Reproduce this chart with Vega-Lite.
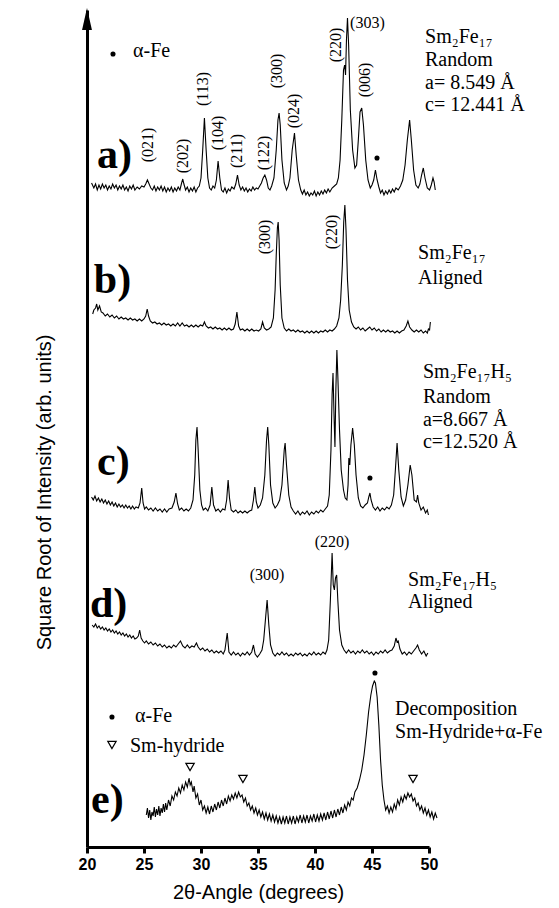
{
"$schema": "https://vega.github.io/schema/vega-lite/v6.json",
"width": 342, "height": 837,
"autosize": {"type": "none"},
"padding": {"left": 87, "top": 10, "right": 130, "bottom": 61},
"background": "white",
"config": {"view": {"stroke": null}, "axis": {"grid": false}},
"datasets": {
"tr": [
{"s":"a","x":20.4,"y":664},{"s":"a","x":20.6,"y":659},{"s":"a","x":20.75,"y":663},{"s":"a","x":20.9,"y":657},{"s":"a","x":21.05,"y":662},{"s":"a","x":21.2,"y":658},{"s":"a","x":21.35,"y":663},{"s":"a","x":21.5,"y":659},{"s":"a","x":21.65,"y":662},{"s":"a","x":21.8,"y":657},{"s":"a","x":21.95,"y":661},{"s":"a","x":22.1,"y":658},{"s":"a","x":22.25,"y":663},{"s":"a","x":22.4,"y":659},{"s":"a","x":22.55,"y":662},{"s":"a","x":22.7,"y":657},{"s":"a","x":22.85,"y":661},{"s":"a","x":23.0,"y":658},{"s":"a","x":23.15,"y":662},{"s":"a","x":23.3,"y":657},{"s":"a","x":23.45,"y":660},{"s":"a","x":23.6,"y":656},{"s":"a","x":23.75,"y":661},{"s":"a","x":23.9,"y":658},{"s":"a","x":24.05,"y":662},{"s":"a","x":24.2,"y":657},{"s":"a","x":24.4,"y":660},{"s":"a","x":24.6,"y":658},{"s":"a","x":24.8,"y":661},{"s":"a","x":25.0,"y":660},{"s":"a","x":25.15,"y":663},{"s":"a","x":25.3,"y":667},{"s":"a","x":25.45,"y":663},{"s":"a","x":25.6,"y":659},{"s":"a","x":25.75,"y":657},{"s":"a","x":25.9,"y":661},{"s":"a","x":26.05,"y":656},{"s":"a","x":26.2,"y":660},{"s":"a","x":26.35,"y":657},{"s":"a","x":26.5,"y":661},{"s":"a","x":26.65,"y":656},{"s":"a","x":26.8,"y":660},{"s":"a","x":26.95,"y":655},{"s":"a","x":27.1,"y":659},{"s":"a","x":27.25,"y":656},{"s":"a","x":27.4,"y":660},{"s":"a","x":27.55,"y":655},{"s":"a","x":27.7,"y":659},{"s":"a","x":27.85,"y":656},{"s":"a","x":28.0,"y":660},{"s":"a","x":28.15,"y":657},{"s":"a","x":28.3,"y":664},{"s":"a","x":28.4,"y":668},{"s":"a","x":28.5,"y":663},{"s":"a","x":28.65,"y":657},{"s":"a","x":28.8,"y":660},{"s":"a","x":28.95,"y":655},{"s":"a","x":29.1,"y":659},{"s":"a","x":29.25,"y":656},{"s":"a","x":29.4,"y":660},{"s":"a","x":29.55,"y":655},{"s":"a","x":29.7,"y":659},{"s":"a","x":29.85,"y":661},{"s":"a","x":30.0,"y":669},{"s":"a","x":30.15,"y":697},{"s":"a","x":30.3,"y":729},{"s":"a","x":30.45,"y":697},{"s":"a","x":30.6,"y":669},{"s":"a","x":30.75,"y":659},{"s":"a","x":30.9,"y":657},{"s":"a","x":31.05,"y":661},{"s":"a","x":31.2,"y":659},{"s":"a","x":31.35,"y":667},{"s":"a","x":31.5,"y":686},{"s":"a","x":31.65,"y":669},{"s":"a","x":31.8,"y":657},{"s":"a","x":31.95,"y":655},{"s":"a","x":32.1,"y":659},{"s":"a","x":32.25,"y":654},{"s":"a","x":32.4,"y":658},{"s":"a","x":32.55,"y":656},{"s":"a","x":32.7,"y":660},{"s":"a","x":32.9,"y":658},{"s":"a","x":33.05,"y":663},{"s":"a","x":33.2,"y":672},{"s":"a","x":33.35,"y":662},{"s":"a","x":33.5,"y":657},{"s":"a","x":33.65,"y":660},{"s":"a","x":33.8,"y":656},{"s":"a","x":33.95,"y":659},{"s":"a","x":34.1,"y":655},{"s":"a","x":34.25,"y":658},{"s":"a","x":34.4,"y":656},{"s":"a","x":34.55,"y":660},{"s":"a","x":34.7,"y":657},{"s":"a","x":34.85,"y":659},{"s":"a","x":35.0,"y":658},{"s":"a","x":35.15,"y":661},{"s":"a","x":35.3,"y":664},{"s":"a","x":35.45,"y":669},{"s":"a","x":35.6,"y":672},{"s":"a","x":35.75,"y":667},{"s":"a","x":35.9,"y":659},{"s":"a","x":36.05,"y":657},{"s":"a","x":36.2,"y":661},{"s":"a","x":36.4,"y":669},{"s":"a","x":36.6,"y":697},{"s":"a","x":36.75,"y":727},{"s":"a","x":36.85,"y":734},{"s":"a","x":36.95,"y":722},{"s":"a","x":37.1,"y":687},{"s":"a","x":37.3,"y":664},{"s":"a","x":37.5,"y":657},{"s":"a","x":37.65,"y":661},{"s":"a","x":37.8,"y":669},{"s":"a","x":38.0,"y":697},{"s":"a","x":38.2,"y":714},{"s":"a","x":38.35,"y":692},{"s":"a","x":38.55,"y":667},{"s":"a","x":38.75,"y":657},{"s":"a","x":38.9,"y":653},{"s":"a","x":39.05,"y":657},{"s":"a","x":39.2,"y":652},{"s":"a","x":39.35,"y":655},{"s":"a","x":39.5,"y":651},{"s":"a","x":39.65,"y":654},{"s":"a","x":39.8,"y":652},{"s":"a","x":39.95,"y":656},{"s":"a","x":40.1,"y":651},{"s":"a","x":40.25,"y":655},{"s":"a","x":40.4,"y":652},{"s":"a","x":40.55,"y":656},{"s":"a","x":40.7,"y":653},{"s":"a","x":40.85,"y":657},{"s":"a","x":41.0,"y":654},{"s":"a","x":41.15,"y":658},{"s":"a","x":41.3,"y":655},{"s":"a","x":41.5,"y":659},{"s":"a","x":41.7,"y":661},{"s":"a","x":41.9,"y":663},{"s":"a","x":42.05,"y":669},{"s":"a","x":42.2,"y":687},{"s":"a","x":42.35,"y":727},{"s":"a","x":42.5,"y":777},{"s":"a","x":42.6,"y":782},{"s":"a","x":42.68,"y":772},{"s":"a","x":42.76,"y":807},{"s":"a","x":42.85,"y":829},{"s":"a","x":42.95,"y":802},{"s":"a","x":43.1,"y":737},{"s":"a","x":43.3,"y":697},{"s":"a","x":43.5,"y":679},{"s":"a","x":43.65,"y":682},{"s":"a","x":43.8,"y":707},{"s":"a","x":43.95,"y":735},{"s":"a","x":44.1,"y":739},{"s":"a","x":44.25,"y":722},{"s":"a","x":44.45,"y":687},{"s":"a","x":44.65,"y":667},{"s":"a","x":44.85,"y":659},{"s":"a","x":45.0,"y":662},{"s":"a","x":45.15,"y":667},{"s":"a","x":45.3,"y":677},{"s":"a","x":45.45,"y":667},{"s":"a","x":45.6,"y":660},{"s":"a","x":45.75,"y":654},{"s":"a","x":45.9,"y":657},{"s":"a","x":46.05,"y":652},{"s":"a","x":46.2,"y":656},{"s":"a","x":46.35,"y":653},{"s":"a","x":46.5,"y":657},{"s":"a","x":46.65,"y":654},{"s":"a","x":46.8,"y":658},{"s":"a","x":46.95,"y":655},{"s":"a","x":47.1,"y":659},{"s":"a","x":47.3,"y":657},{"s":"a","x":47.5,"y":661},{"s":"a","x":47.7,"y":667},{"s":"a","x":47.9,"y":682},{"s":"a","x":48.1,"y":707},{"s":"a","x":48.3,"y":727},{"s":"a","x":48.45,"y":707},{"s":"a","x":48.65,"y":677},{"s":"a","x":48.85,"y":662},{"s":"a","x":49.05,"y":659},{"s":"a","x":49.2,"y":663},{"s":"a","x":49.35,"y":672},{"s":"a","x":49.5,"y":679},{"s":"a","x":49.65,"y":669},{"s":"a","x":49.85,"y":659},{"s":"a","x":50.05,"y":657},{"s":"a","x":50.2,"y":662},{"s":"a","x":50.35,"y":669},{"s":"a","x":50.45,"y":665},{"s":"a","x":50.55,"y":657},
{"s":"b","x":20.5,"y":533},{"s":"b","x":20.6,"y":537},{"s":"b","x":20.75,"y":539},{"s":"b","x":20.85,"y":543},{"s":"b","x":20.95,"y":537},{"s":"b","x":21.1,"y":541},{"s":"b","x":21.25,"y":535},{"s":"b","x":21.4,"y":534},{"s":"b","x":21.6,"y":531},{"s":"b","x":21.8,"y":533},{"s":"b","x":22.0,"y":530},{"s":"b","x":22.2,"y":532},{"s":"b","x":22.4,"y":529},{"s":"b","x":22.6,"y":531},{"s":"b","x":22.8,"y":528},{"s":"b","x":23.0,"y":530},{"s":"b","x":23.2,"y":528},{"s":"b","x":23.4,"y":529},{"s":"b","x":23.6,"y":527},{"s":"b","x":23.8,"y":529},{"s":"b","x":24.0,"y":527},{"s":"b","x":24.2,"y":528},{"s":"b","x":24.4,"y":526},{"s":"b","x":24.6,"y":528},{"s":"b","x":24.8,"y":526},{"s":"b","x":25.0,"y":528},{"s":"b","x":25.15,"y":531},{"s":"b","x":25.28,"y":538},{"s":"b","x":25.4,"y":531},{"s":"b","x":25.55,"y":526},{"s":"b","x":25.75,"y":524},{"s":"b","x":25.95,"y":525},{"s":"b","x":26.15,"y":523},{"s":"b","x":26.35,"y":524},{"s":"b","x":26.55,"y":522},{"s":"b","x":26.75,"y":524},{"s":"b","x":26.95,"y":522},{"s":"b","x":27.15,"y":523},{"s":"b","x":27.35,"y":521},{"s":"b","x":27.55,"y":523},{"s":"b","x":27.75,"y":521},{"s":"b","x":27.95,"y":524},{"s":"b","x":28.15,"y":521},{"s":"b","x":28.35,"y":524},{"s":"b","x":28.55,"y":521},{"s":"b","x":28.75,"y":522},{"s":"b","x":28.95,"y":520},{"s":"b","x":29.15,"y":522},{"s":"b","x":29.35,"y":520},{"s":"b","x":29.55,"y":522},{"s":"b","x":29.75,"y":520},{"s":"b","x":29.95,"y":522},{"s":"b","x":30.15,"y":521},{"s":"b","x":30.3,"y":525},{"s":"b","x":30.45,"y":521},{"s":"b","x":30.65,"y":519},{"s":"b","x":30.85,"y":520},{"s":"b","x":31.05,"y":518},{"s":"b","x":31.25,"y":520},{"s":"b","x":31.45,"y":518},{"s":"b","x":31.65,"y":519},{"s":"b","x":31.85,"y":517},{"s":"b","x":32.05,"y":519},{"s":"b","x":32.25,"y":517},{"s":"b","x":32.45,"y":519},{"s":"b","x":32.65,"y":517},{"s":"b","x":32.85,"y":518},{"s":"b","x":33.0,"y":523},{"s":"b","x":33.15,"y":535},{"s":"b","x":33.3,"y":521},{"s":"b","x":33.45,"y":517},{"s":"b","x":33.65,"y":518},{"s":"b","x":33.85,"y":516},{"s":"b","x":34.05,"y":518},{"s":"b","x":34.25,"y":516},{"s":"b","x":34.45,"y":518},{"s":"b","x":34.65,"y":516},{"s":"b","x":34.85,"y":517},{"s":"b","x":35.05,"y":516},{"s":"b","x":35.25,"y":518},{"s":"b","x":35.4,"y":525},{"s":"b","x":35.55,"y":519},{"s":"b","x":35.75,"y":517},{"s":"b","x":35.95,"y":518},{"s":"b","x":36.15,"y":520},{"s":"b","x":36.35,"y":529},{"s":"b","x":36.5,"y":557},{"s":"b","x":36.6,"y":592},{"s":"b","x":36.7,"y":619},{"s":"b","x":36.77,"y":625},{"s":"b","x":36.85,"y":607},{"s":"b","x":36.95,"y":562},{"s":"b","x":37.1,"y":529},{"s":"b","x":37.3,"y":519},{"s":"b","x":37.5,"y":516},{"s":"b","x":37.7,"y":518},{"s":"b","x":37.9,"y":516},{"s":"b","x":38.1,"y":517},{"s":"b","x":38.3,"y":515},{"s":"b","x":38.5,"y":517},{"s":"b","x":38.7,"y":515},{"s":"b","x":38.9,"y":516},{"s":"b","x":39.1,"y":514},{"s":"b","x":39.3,"y":516},{"s":"b","x":39.5,"y":514},{"s":"b","x":39.7,"y":516},{"s":"b","x":39.9,"y":514},{"s":"b","x":40.1,"y":516},{"s":"b","x":40.3,"y":514},{"s":"b","x":40.5,"y":516},{"s":"b","x":40.7,"y":515},{"s":"b","x":40.9,"y":517},{"s":"b","x":41.1,"y":515},{"s":"b","x":41.3,"y":517},{"s":"b","x":41.5,"y":516},{"s":"b","x":41.7,"y":518},{"s":"b","x":41.9,"y":521},{"s":"b","x":42.1,"y":529},{"s":"b","x":42.25,"y":547},{"s":"b","x":42.4,"y":582},{"s":"b","x":42.52,"y":625},{"s":"b","x":42.62,"y":642},{"s":"b","x":42.72,"y":617},{"s":"b","x":42.85,"y":567},{"s":"b","x":43.0,"y":537},{"s":"b","x":43.2,"y":525},{"s":"b","x":43.4,"y":520},{"s":"b","x":43.6,"y":518},{"s":"b","x":43.8,"y":520},{"s":"b","x":44.0,"y":517},{"s":"b","x":44.2,"y":519},{"s":"b","x":44.4,"y":516},{"s":"b","x":44.6,"y":518},{"s":"b","x":44.8,"y":520},{"s":"b","x":45.0,"y":517},{"s":"b","x":45.2,"y":519},{"s":"b","x":45.4,"y":516},{"s":"b","x":45.6,"y":518},{"s":"b","x":45.8,"y":515},{"s":"b","x":46.0,"y":517},{"s":"b","x":46.2,"y":515},{"s":"b","x":46.4,"y":517},{"s":"b","x":46.6,"y":515},{"s":"b","x":46.8,"y":516},{"s":"b","x":47.0,"y":514},{"s":"b","x":47.2,"y":516},{"s":"b","x":47.4,"y":514},{"s":"b","x":47.6,"y":516},{"s":"b","x":47.8,"y":517},{"s":"b","x":48.0,"y":521},{"s":"b","x":48.15,"y":526},{"s":"b","x":48.3,"y":520},{"s":"b","x":48.5,"y":517},{"s":"b","x":48.7,"y":515},{"s":"b","x":48.9,"y":517},{"s":"b","x":49.1,"y":515},{"s":"b","x":49.3,"y":517},{"s":"b","x":49.5,"y":514},{"s":"b","x":49.7,"y":516},{"s":"b","x":49.85,"y":514},{"s":"b","x":49.95,"y":518},{"s":"b","x":50.05,"y":517},{"s":"b","x":50.12,"y":525},
{"s":"c","x":20.4,"y":350},{"s":"c","x":20.55,"y":347},{"s":"c","x":20.7,"y":351},{"s":"c","x":20.85,"y":346},{"s":"c","x":21.0,"y":349},{"s":"c","x":21.15,"y":345},{"s":"c","x":21.3,"y":348},{"s":"c","x":21.45,"y":344},{"s":"c","x":21.6,"y":347},{"s":"c","x":21.75,"y":343},{"s":"c","x":21.9,"y":346},{"s":"c","x":22.05,"y":342},{"s":"c","x":22.2,"y":345},{"s":"c","x":22.35,"y":341},{"s":"c","x":22.5,"y":344},{"s":"c","x":22.65,"y":340},{"s":"c","x":22.8,"y":343},{"s":"c","x":22.95,"y":340},{"s":"c","x":23.1,"y":342},{"s":"c","x":23.25,"y":339},{"s":"c","x":23.4,"y":342},{"s":"c","x":23.55,"y":339},{"s":"c","x":23.7,"y":341},{"s":"c","x":23.85,"y":338},{"s":"c","x":24.0,"y":341},{"s":"c","x":24.15,"y":338},{"s":"c","x":24.3,"y":340},{"s":"c","x":24.5,"y":339},{"s":"c","x":24.65,"y":344},{"s":"c","x":24.8,"y":359},{"s":"c","x":24.92,"y":344},{"s":"c","x":25.05,"y":338},{"s":"c","x":25.2,"y":340},{"s":"c","x":25.4,"y":337},{"s":"c","x":25.6,"y":339},{"s":"c","x":25.8,"y":336},{"s":"c","x":26.0,"y":339},{"s":"c","x":26.2,"y":336},{"s":"c","x":26.4,"y":338},{"s":"c","x":26.6,"y":335},{"s":"c","x":26.8,"y":338},{"s":"c","x":27.0,"y":335},{"s":"c","x":27.2,"y":338},{"s":"c","x":27.45,"y":339},{"s":"c","x":27.65,"y":345},{"s":"c","x":27.8,"y":354},{"s":"c","x":27.95,"y":343},{"s":"c","x":28.1,"y":337},{"s":"c","x":28.3,"y":339},{"s":"c","x":28.5,"y":336},{"s":"c","x":28.7,"y":338},{"s":"c","x":28.9,"y":336},{"s":"c","x":29.1,"y":339},{"s":"c","x":29.3,"y":347},{"s":"c","x":29.45,"y":372},{"s":"c","x":29.55,"y":407},{"s":"c","x":29.65,"y":420},{"s":"c","x":29.75,"y":397},{"s":"c","x":29.9,"y":357},{"s":"c","x":30.05,"y":342},{"s":"c","x":30.2,"y":337},{"s":"c","x":30.4,"y":339},{"s":"c","x":30.6,"y":336},{"s":"c","x":30.8,"y":342},{"s":"c","x":30.95,"y":360},{"s":"c","x":31.1,"y":342},{"s":"c","x":31.3,"y":336},{"s":"c","x":31.5,"y":338},{"s":"c","x":31.7,"y":335},{"s":"c","x":31.9,"y":338},{"s":"c","x":32.1,"y":337},{"s":"c","x":32.25,"y":347},{"s":"c","x":32.38,"y":367},{"s":"c","x":32.5,"y":349},{"s":"c","x":32.65,"y":337},{"s":"c","x":32.85,"y":335},{"s":"c","x":33.05,"y":337},{"s":"c","x":33.25,"y":334},{"s":"c","x":33.45,"y":336},{"s":"c","x":33.65,"y":334},{"s":"c","x":33.85,"y":336},{"s":"c","x":34.05,"y":334},{"s":"c","x":34.25,"y":336},{"s":"c","x":34.45,"y":337},{"s":"c","x":34.6,"y":347},{"s":"c","x":34.72,"y":360},{"s":"c","x":34.85,"y":345},{"s":"c","x":35.0,"y":339},{"s":"c","x":35.2,"y":342},{"s":"c","x":35.4,"y":349},{"s":"c","x":35.6,"y":372},{"s":"c","x":35.75,"y":407},{"s":"c","x":35.85,"y":420},{"s":"c","x":35.95,"y":402},{"s":"c","x":36.1,"y":362},{"s":"c","x":36.3,"y":344},{"s":"c","x":36.5,"y":339},{"s":"c","x":36.7,"y":342},{"s":"c","x":36.9,"y":347},{"s":"c","x":37.1,"y":362},{"s":"c","x":37.3,"y":397},{"s":"c","x":37.38,"y":404},{"s":"c","x":37.5,"y":382},{"s":"c","x":37.7,"y":352},{"s":"c","x":37.9,"y":340},{"s":"c","x":38.1,"y":336},{"s":"c","x":38.3,"y":333},{"s":"c","x":38.5,"y":336},{"s":"c","x":38.7,"y":332},{"s":"c","x":38.9,"y":335},{"s":"c","x":39.1,"y":333},{"s":"c","x":39.3,"y":336},{"s":"c","x":39.5,"y":332},{"s":"c","x":39.7,"y":335},{"s":"c","x":39.9,"y":333},{"s":"c","x":40.1,"y":336},{"s":"c","x":40.3,"y":334},{"s":"c","x":40.5,"y":337},{"s":"c","x":40.7,"y":335},{"s":"c","x":40.9,"y":338},{"s":"c","x":41.1,"y":341},{"s":"c","x":41.25,"y":352},{"s":"c","x":41.4,"y":397},{"s":"c","x":41.5,"y":452},{"s":"c","x":41.58,"y":474},{"s":"c","x":41.68,"y":427},{"s":"c","x":41.75,"y":400},{"s":"c","x":41.83,"y":457},{"s":"c","x":41.92,"y":497},{"s":"c","x":42.0,"y":472},{"s":"c","x":42.15,"y":417},{"s":"c","x":42.3,"y":377},{"s":"c","x":42.5,"y":357},{"s":"c","x":42.65,"y":349},{"s":"c","x":42.8,"y":347},{"s":"c","x":42.9,"y":362},{"s":"c","x":42.97,"y":389},{"s":"c","x":43.05,"y":382},{"s":"c","x":43.15,"y":402},{"s":"c","x":43.3,"y":419},{"s":"c","x":43.45,"y":402},{"s":"c","x":43.6,"y":372},{"s":"c","x":43.8,"y":349},{"s":"c","x":44.0,"y":341},{"s":"c","x":44.2,"y":339},{"s":"c","x":44.4,"y":342},{"s":"c","x":44.6,"y":344},{"s":"c","x":44.72,"y":350},{"s":"c","x":44.82,"y":354},{"s":"c","x":44.92,"y":347},{"s":"c","x":45.1,"y":340},{"s":"c","x":45.3,"y":337},{"s":"c","x":45.5,"y":340},{"s":"c","x":45.7,"y":336},{"s":"c","x":45.9,"y":339},{"s":"c","x":46.1,"y":337},{"s":"c","x":46.3,"y":340},{"s":"c","x":46.5,"y":338},{"s":"c","x":46.7,"y":342},{"s":"c","x":46.9,"y":352},{"s":"c","x":47.05,"y":377},{"s":"c","x":47.2,"y":404},{"s":"c","x":47.35,"y":377},{"s":"c","x":47.55,"y":350},{"s":"c","x":47.75,"y":341},{"s":"c","x":47.95,"y":347},{"s":"c","x":48.15,"y":362},{"s":"c","x":48.35,"y":382},{"s":"c","x":48.5,"y":372},{"s":"c","x":48.7,"y":347},{"s":"c","x":48.9,"y":345},{"s":"c","x":49.0,"y":352},{"s":"c","x":49.1,"y":344},{"s":"c","x":49.3,"y":337},{"s":"c","x":49.5,"y":340},{"s":"c","x":49.7,"y":334},{"s":"c","x":49.85,"y":337},{"s":"c","x":49.95,"y":332},
{"s":"d","x":20.45,"y":222},{"s":"d","x":20.6,"y":220},{"s":"d","x":20.75,"y":223},{"s":"d","x":20.9,"y":219},{"s":"d","x":21.05,"y":221},{"s":"d","x":21.2,"y":218},{"s":"d","x":21.35,"y":220},{"s":"d","x":21.5,"y":217},{"s":"d","x":21.65,"y":219},{"s":"d","x":21.8,"y":216},{"s":"d","x":21.95,"y":218},{"s":"d","x":22.1,"y":215},{"s":"d","x":22.25,"y":217},{"s":"d","x":22.4,"y":214},{"s":"d","x":22.55,"y":216},{"s":"d","x":22.7,"y":213},{"s":"d","x":22.85,"y":215},{"s":"d","x":23.0,"y":212},{"s":"d","x":23.15,"y":214},{"s":"d","x":23.3,"y":211},{"s":"d","x":23.45,"y":213},{"s":"d","x":23.6,"y":210},{"s":"d","x":23.75,"y":212},{"s":"d","x":23.9,"y":209},{"s":"d","x":24.05,"y":211},{"s":"d","x":24.2,"y":208},{"s":"d","x":24.35,"y":209},{"s":"d","x":24.5,"y":211},{"s":"d","x":24.62,"y":217},{"s":"d","x":24.75,"y":209},{"s":"d","x":24.9,"y":206},{"s":"d","x":25.05,"y":204},{"s":"d","x":25.2,"y":206},{"s":"d","x":25.4,"y":203},{"s":"d","x":25.6,"y":205},{"s":"d","x":25.8,"y":202},{"s":"d","x":26.0,"y":204},{"s":"d","x":26.2,"y":201},{"s":"d","x":26.4,"y":203},{"s":"d","x":26.6,"y":200},{"s":"d","x":26.8,"y":202},{"s":"d","x":27.0,"y":199},{"s":"d","x":27.2,"y":201},{"s":"d","x":27.4,"y":199},{"s":"d","x":27.6,"y":202},{"s":"d","x":27.8,"y":200},{"s":"d","x":28.0,"y":203},{"s":"d","x":28.2,"y":206},{"s":"d","x":28.4,"y":201},{"s":"d","x":28.6,"y":199},{"s":"d","x":28.8,"y":202},{"s":"d","x":29.0,"y":199},{"s":"d","x":29.2,"y":201},{"s":"d","x":29.4,"y":200},{"s":"d","x":29.6,"y":204},{"s":"d","x":29.75,"y":200},{"s":"d","x":29.95,"y":197},{"s":"d","x":30.15,"y":199},{"s":"d","x":30.35,"y":196},{"s":"d","x":30.55,"y":198},{"s":"d","x":30.75,"y":195},{"s":"d","x":30.95,"y":197},{"s":"d","x":31.15,"y":194},{"s":"d","x":31.35,"y":196},{"s":"d","x":31.55,"y":194},{"s":"d","x":31.75,"y":196},{"s":"d","x":31.95,"y":193},{"s":"d","x":32.1,"y":197},{"s":"d","x":32.3,"y":214},{"s":"d","x":32.45,"y":195},{"s":"d","x":32.65,"y":192},{"s":"d","x":32.85,"y":195},{"s":"d","x":33.05,"y":192},{"s":"d","x":33.25,"y":194},{"s":"d","x":33.45,"y":191},{"s":"d","x":33.65,"y":194},{"s":"d","x":33.85,"y":192},{"s":"d","x":34.05,"y":195},{"s":"d","x":34.25,"y":192},{"s":"d","x":34.45,"y":195},{"s":"d","x":34.6,"y":202},{"s":"d","x":34.75,"y":193},{"s":"d","x":34.95,"y":190},{"s":"d","x":35.15,"y":193},{"s":"d","x":35.35,"y":197},{"s":"d","x":35.5,"y":207},{"s":"d","x":35.65,"y":227},{"s":"d","x":35.8,"y":247},{"s":"d","x":35.95,"y":222},{"s":"d","x":36.1,"y":202},{"s":"d","x":36.3,"y":194},{"s":"d","x":36.5,"y":191},{"s":"d","x":36.7,"y":194},{"s":"d","x":36.9,"y":192},{"s":"d","x":37.1,"y":195},{"s":"d","x":37.3,"y":192},{"s":"d","x":37.5,"y":194},{"s":"d","x":37.7,"y":191},{"s":"d","x":37.9,"y":193},{"s":"d","x":38.1,"y":191},{"s":"d","x":38.3,"y":194},{"s":"d","x":38.5,"y":192},{"s":"d","x":38.7,"y":194},{"s":"d","x":38.9,"y":191},{"s":"d","x":39.1,"y":193},{"s":"d","x":39.3,"y":191},{"s":"d","x":39.5,"y":194},{"s":"d","x":39.7,"y":192},{"s":"d","x":39.9,"y":195},{"s":"d","x":40.1,"y":192},{"s":"d","x":40.3,"y":194},{"s":"d","x":40.5,"y":192},{"s":"d","x":40.7,"y":195},{"s":"d","x":40.9,"y":193},{"s":"d","x":41.05,"y":197},{"s":"d","x":41.2,"y":207},{"s":"d","x":41.35,"y":247},{"s":"d","x":41.5,"y":294},{"s":"d","x":41.6,"y":262},{"s":"d","x":41.7,"y":257},{"s":"d","x":41.8,"y":269},{"s":"d","x":41.9,"y":272},{"s":"d","x":42.0,"y":247},{"s":"d","x":42.15,"y":217},{"s":"d","x":42.35,"y":202},{"s":"d","x":42.55,"y":197},{"s":"d","x":42.75,"y":194},{"s":"d","x":42.95,"y":197},{"s":"d","x":43.15,"y":194},{"s":"d","x":43.35,"y":196},{"s":"d","x":43.55,"y":193},{"s":"d","x":43.75,"y":196},{"s":"d","x":43.95,"y":194},{"s":"d","x":44.15,"y":197},{"s":"d","x":44.35,"y":194},{"s":"d","x":44.55,"y":196},{"s":"d","x":44.75,"y":193},{"s":"d","x":44.95,"y":195},{"s":"d","x":45.15,"y":192},{"s":"d","x":45.35,"y":195},{"s":"d","x":45.55,"y":193},{"s":"d","x":45.75,"y":196},{"s":"d","x":45.95,"y":194},{"s":"d","x":46.15,"y":197},{"s":"d","x":46.35,"y":194},{"s":"d","x":46.55,"y":196},{"s":"d","x":46.75,"y":197},{"s":"d","x":46.95,"y":201},{"s":"d","x":47.1,"y":209},{"s":"d","x":47.2,"y":205},{"s":"d","x":47.3,"y":206},{"s":"d","x":47.45,"y":198},{"s":"d","x":47.65,"y":193},{"s":"d","x":47.85,"y":195},{"s":"d","x":48.05,"y":192},{"s":"d","x":48.25,"y":195},{"s":"d","x":48.45,"y":193},{"s":"d","x":48.65,"y":196},{"s":"d","x":48.85,"y":199},{"s":"d","x":49.0,"y":202},{"s":"d","x":49.15,"y":197},{"s":"d","x":49.35,"y":193},{"s":"d","x":49.55,"y":196},{"s":"d","x":49.75,"y":191},{"s":"d","x":49.9,"y":194},
{"s":"e","x":25.2,"y":32},{"s":"e","x":25.3,"y":39},{"s":"e","x":25.4,"y":29},{"s":"e","x":25.5,"y":37},{"s":"e","x":25.6,"y":27},{"s":"e","x":25.7,"y":35},{"s":"e","x":25.8,"y":31},{"s":"e","x":25.9,"y":40},{"s":"e","x":26.0,"y":30},{"s":"e","x":26.1,"y":38},{"s":"e","x":26.2,"y":32},{"s":"e","x":26.3,"y":41},{"s":"e","x":26.4,"y":31},{"s":"e","x":26.5,"y":39},{"s":"e","x":26.6,"y":34},{"s":"e","x":26.7,"y":43},{"s":"e","x":26.8,"y":35},{"s":"e","x":26.9,"y":44},{"s":"e","x":27.0,"y":37},{"s":"e","x":27.15,"y":47},{"s":"e","x":27.3,"y":41},{"s":"e","x":27.45,"y":51},{"s":"e","x":27.6,"y":47},{"s":"e","x":27.75,"y":55},{"s":"e","x":27.9,"y":51},{"s":"e","x":28.05,"y":59},{"s":"e","x":28.2,"y":54},{"s":"e","x":28.35,"y":62},{"s":"e","x":28.5,"y":57},{"s":"e","x":28.65,"y":65},{"s":"e","x":28.8,"y":60},{"s":"e","x":28.95,"y":69},{"s":"e","x":29.05,"y":62},{"s":"e","x":29.15,"y":65},{"s":"e","x":29.3,"y":55},{"s":"e","x":29.4,"y":61},{"s":"e","x":29.55,"y":49},{"s":"e","x":29.7,"y":53},{"s":"e","x":29.85,"y":42},{"s":"e","x":30.0,"y":47},{"s":"e","x":30.15,"y":37},{"s":"e","x":30.3,"y":41},{"s":"e","x":30.45,"y":34},{"s":"e","x":30.6,"y":40},{"s":"e","x":30.75,"y":33},{"s":"e","x":30.9,"y":41},{"s":"e","x":31.05,"y":35},{"s":"e","x":31.2,"y":43},{"s":"e","x":31.35,"y":37},{"s":"e","x":31.5,"y":45},{"s":"e","x":31.65,"y":39},{"s":"e","x":31.8,"y":47},{"s":"e","x":31.95,"y":41},{"s":"e","x":32.1,"y":49},{"s":"e","x":32.25,"y":43},{"s":"e","x":32.4,"y":51},{"s":"e","x":32.55,"y":46},{"s":"e","x":32.7,"y":52},{"s":"e","x":32.85,"y":48},{"s":"e","x":33.0,"y":54},{"s":"e","x":33.15,"y":49},{"s":"e","x":33.3,"y":55},{"s":"e","x":33.45,"y":50},{"s":"e","x":33.6,"y":52},{"s":"e","x":33.75,"y":45},{"s":"e","x":33.9,"y":49},{"s":"e","x":34.05,"y":41},{"s":"e","x":34.2,"y":44},{"s":"e","x":34.35,"y":37},{"s":"e","x":34.5,"y":41},{"s":"e","x":34.65,"y":34},{"s":"e","x":34.8,"y":39},{"s":"e","x":34.95,"y":32},{"s":"e","x":35.1,"y":37},{"s":"e","x":35.25,"y":30},{"s":"e","x":35.4,"y":35},{"s":"e","x":35.55,"y":28},{"s":"e","x":35.7,"y":34},{"s":"e","x":35.85,"y":27},{"s":"e","x":36.0,"y":33},{"s":"e","x":36.15,"y":26},{"s":"e","x":36.3,"y":32},{"s":"e","x":36.45,"y":25},{"s":"e","x":36.6,"y":31},{"s":"e","x":36.75,"y":24},{"s":"e","x":36.9,"y":30},{"s":"e","x":37.05,"y":23},{"s":"e","x":37.2,"y":30},{"s":"e","x":37.35,"y":24},{"s":"e","x":37.5,"y":31},{"s":"e","x":37.65,"y":23},{"s":"e","x":37.8,"y":30},{"s":"e","x":37.95,"y":24},{"s":"e","x":38.1,"y":31},{"s":"e","x":38.25,"y":23},{"s":"e","x":38.4,"y":30},{"s":"e","x":38.55,"y":25},{"s":"e","x":38.7,"y":32},{"s":"e","x":38.85,"y":24},{"s":"e","x":39.0,"y":31},{"s":"e","x":39.15,"y":25},{"s":"e","x":39.3,"y":32},{"s":"e","x":39.45,"y":24},{"s":"e","x":39.6,"y":31},{"s":"e","x":39.75,"y":26},{"s":"e","x":39.9,"y":33},{"s":"e","x":40.05,"y":25},{"s":"e","x":40.2,"y":32},{"s":"e","x":40.35,"y":26},{"s":"e","x":40.5,"y":33},{"s":"e","x":40.65,"y":27},{"s":"e","x":40.8,"y":34},{"s":"e","x":40.95,"y":27},{"s":"e","x":41.1,"y":35},{"s":"e","x":41.25,"y":28},{"s":"e","x":41.4,"y":36},{"s":"e","x":41.55,"y":29},{"s":"e","x":41.7,"y":37},{"s":"e","x":41.85,"y":30},{"s":"e","x":42.0,"y":38},{"s":"e","x":42.15,"y":32},{"s":"e","x":42.3,"y":40},{"s":"e","x":42.45,"y":34},{"s":"e","x":42.6,"y":42},{"s":"e","x":42.75,"y":37},{"s":"e","x":42.9,"y":45},{"s":"e","x":43.05,"y":41},{"s":"e","x":43.2,"y":49},{"s":"e","x":43.35,"y":47},{"s":"e","x":43.5,"y":55},{"s":"e","x":43.7,"y":59},{"s":"e","x":43.9,"y":67},{"s":"e","x":44.1,"y":77},{"s":"e","x":44.3,"y":92},{"s":"e","x":44.5,"y":112},{"s":"e","x":44.7,"y":135},{"s":"e","x":44.9,"y":152},{"s":"e","x":45.05,"y":161},{"s":"e","x":45.2,"y":166},{"s":"e","x":45.3,"y":164},{"s":"e","x":45.45,"y":150},{"s":"e","x":45.6,"y":122},{"s":"e","x":45.75,"y":87},{"s":"e","x":45.9,"y":62},{"s":"e","x":46.05,"y":47},{"s":"e","x":46.2,"y":37},{"s":"e","x":46.35,"y":41},{"s":"e","x":46.5,"y":34},{"s":"e","x":46.65,"y":40},{"s":"e","x":46.8,"y":35},{"s":"e","x":46.95,"y":43},{"s":"e","x":47.1,"y":38},{"s":"e","x":47.25,"y":47},{"s":"e","x":47.4,"y":42},{"s":"e","x":47.55,"y":50},{"s":"e","x":47.7,"y":45},{"s":"e","x":47.85,"y":52},{"s":"e","x":48.0,"y":48},{"s":"e","x":48.15,"y":54},{"s":"e","x":48.3,"y":50},{"s":"e","x":48.45,"y":53},{"s":"e","x":48.6,"y":46},{"s":"e","x":48.75,"y":49},{"s":"e","x":48.9,"y":41},{"s":"e","x":49.05,"y":44},{"s":"e","x":49.2,"y":37},{"s":"e","x":49.35,"y":41},{"s":"e","x":49.5,"y":34},{"s":"e","x":49.65,"y":39},{"s":"e","x":49.8,"y":32},{"s":"e","x":49.95,"y":37},{"s":"e","x":50.1,"y":30},{"s":"e","x":50.25,"y":35},{"s":"e","x":50.4,"y":28},{"s":"e","x":50.55,"y":34},{"s":"e","x":50.7,"y":29}
],
"hklv": [
{"x":25.35,"y":702,"t":"(021)"},{"x":28.42,"y":691,"t":"(202)"},{"x":30.18,"y":758,"t":"(113)"},{"x":31.49,"y":714,"t":"(104)"},{"x":33.16,"y":696,"t":"(211)"},{"x":35.53,"y":694,"t":"(122)"},{"x":36.67,"y":776,"t":"(300)"},{"x":38.16,"y":736,"t":"(024)"},{"x":41.85,"y":802,"t":"(220)"},{"x":44.39,"y":767,"t":"(006)"},
{"x":35.61,"y":610,"t":"(300)"},{"x":41.49,"y":615,"t":"(220)"}
],
"hklh": [
{"x":44.6,"y":824,"t":"(303)"},{"x":35.79,"y":272,"t":"(300)"},{"x":41.49,"y":305,"t":"(220)"}
],
"panel": [
{"x":20.88,"y":679,"t":"a)"},{"x":20.6,"y":554,"t":"b)"},{"x":20.88,"y":372,"t":"c)"},{"x":20.26,"y":230,"t":"d)"},{"x":20.35,"y":34,"t":"e)"}
],
"notes": [
{"x":49.65,"y":804,"t":"Sm₂Fe₁₇"},{"x":49.65,"y":781,"t":"Random"},{"x":49.65,"y":758,"t":"a= 8.549 Å"},{"x":49.65,"y":736,"t":"c= 12.441 Å"},
{"x":49.04,"y":588,"t":"Sm₂Fe₁₇"},{"x":49.04,"y":563,"t":"Aligned"},
{"x":49.47,"y":469,"t":"Sm₂Fe₁₇H₅"},{"x":49.47,"y":444,"t":"Random"},{"x":49.47,"y":421,"t":"a=8.667 Å"},{"x":49.47,"y":399,"t":"c=12.520 Å"},
{"x":48.16,"y":261,"t":"Sm₂Fe₁₇H₅"},{"x":48.16,"y":239,"t":"Aligned"},
{"x":47.02,"y":132,"t":"Decomposition"},{"x":47.02,"y":109,"t":"Sm-Hydride+α-Fe"},
{"x":24.04,"y":790,"t":"α-Fe"},{"x":24.21,"y":125,"t":"α-Fe"},{"x":23.77,"y":95,"t":"Sm-hydride"}
],
"dots": [
{"x":45.44,"y":689},{"x":44.82,"y":369},{"x":45.26,"y":174},{"x":22.28,"y":793},{"x":22.19,"y":130}
],
"tris": [
{"x":29.04,"y":80},{"x":33.68,"y":68},{"x":48.6,"y":68},{"x":22.19,"y":102}
],
"arrow": [
{"x":20,"y":828}
]
},
"encoding": {
"x": {"field": "x", "type": "quantitative",
 "scale": {"domain": [20, 50], "nice": false, "zero": false},
 "axis": {"values": [20,25,30,35,40,45,50], "title": "2θ-Angle (degrees)",
  "domainColor": "black", "domainWidth": 3, "tickColor": "black", "tickWidth": 3, "tickSize": 6,
  "labelFont": "Liberation Sans", "labelFontSize": 16, "labelFontWeight": "bold", "labelColor": "black", "labelPadding": 3, "labelFlush": false,
  "titleFont": "Liberation Sans", "titleFontSize": 20, "titleFontWeight": "normal", "titleColor": "black", "titlePadding": 10}},
"y": {"field": "y", "type": "quantitative",
 "scale": {"domain": [0, 837], "nice": false, "zero": false},
 "axis": {"title": "Square Root of Intensity (arb. units)", "ticks": false, "labels": false,
  "domainColor": "black", "domainWidth": 3,
  "titleFont": "Liberation Sans", "titleFontSize": 20, "titleFontWeight": "normal", "titleColor": "black",
  "titleX": -33, "titleY": 482, "titleAngle": 270, "titleAlign": "center", "titleBaseline": "bottom"}}
},
"layer": [
{"data": {"name": "tr"}, "mark": {"type": "line", "color": "black", "strokeWidth": 1.1, "clip": false},
 "encoding": {"detail": {"field": "s"}}},
{"data": {"name": "hklv"}, "mark": {"type": "text", "angle": 270, "align": "center", "baseline": "middle", "font": "Liberation Serif", "fontSize": 16, "color": "black"},
 "encoding": {"text": {"field": "t"}}},
{"data": {"name": "hklh"}, "mark": {"type": "text", "align": "center", "baseline": "middle", "font": "Liberation Serif", "fontSize": 16, "color": "black"},
 "encoding": {"text": {"field": "t"}}},
{"data": {"name": "panel"}, "mark": {"type": "text", "align": "left", "baseline": "alphabetic", "font": "Liberation Serif", "fontSize": 42, "fontWeight": "bold", "color": "black"},
 "encoding": {"text": {"field": "t"}}},
{"data": {"name": "notes"}, "mark": {"type": "text", "align": "left", "baseline": "alphabetic", "font": "Liberation Serif", "fontSize": 20, "color": "black"},
 "encoding": {"text": {"field": "t"}}},
{"data": {"name": "dots"}, "mark": {"type": "point", "shape": "circle", "filled": true, "color": "black", "size": 26, "opacity": 1}},
{"data": {"name": "tris"}, "mark": {"type": "point", "shape": "triangle-down", "filled": false, "color": "black", "strokeWidth": 1.2, "size": 70, "opacity": 1}},
{"data": {"name": "arrow"}, "mark": {"type": "point", "shape": "M0,-1L0.45,1L-0.45,1Z", "filled": true, "color": "black", "size": 484, "opacity": 1}}
]
}
